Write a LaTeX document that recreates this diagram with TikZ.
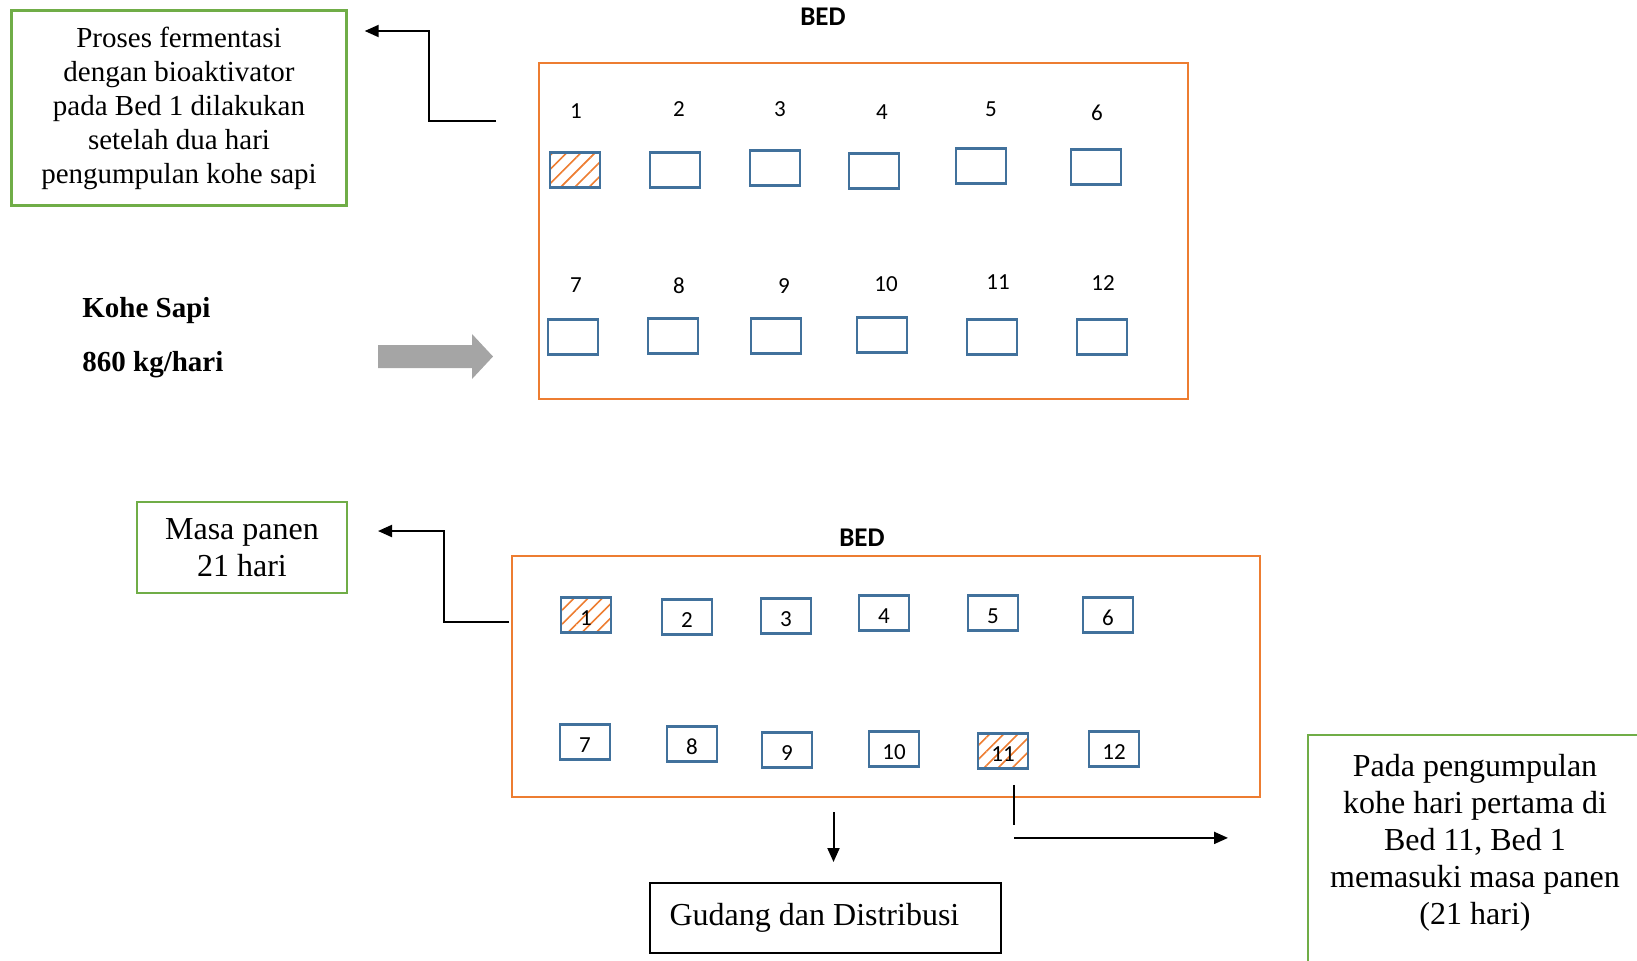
\documentclass[tikz,border=0pt]{standalone}
\usepackage{fontspec}
\setmainfont{Liberation Serif}
\newfontfamily\calibri{Carlito}
\usetikzlibrary{positioning,patterns.meta,arrows.meta}
\definecolor{bedorange}{HTML}{ED7D31}
\definecolor{cellblue}{HTML}{41719C}
\definecolor{notegreen}{HTML}{70AD47}
\definecolor{flowgray}{HTML}{A5A5A5}
\tikzset{cell/.style={draw=cellblue,line width=1.4pt,minimum width=25pt,minimum height=17.5pt,inner sep=0pt,text height=10.5pt,font=\calibri\fontsize{11.5}{13}\selectfont}}
\tikzset{hatched/.style={cell,pattern={Lines[angle=45,distance=5pt,line width=0.8pt]},pattern color=bedorange}}
\tikzset{cellnum/.style={inner sep=0pt,font=\calibri\fontsize{11.5}{13}\selectfont}}
\tikzset{bedframe/.style={draw=bedorange,line width=1.2pt,inner sep=0pt}}
\tikzset{bedtitle/.style={inner sep=0pt,font=\calibri\bfseries\fontsize{13.5}{16}\selectfont}}
\tikzset{note/.style={draw=notegreen,line width=1.2pt,align=center}}
\tikzset{flow/.style={draw,line width=1pt,-{Triangle[length=7pt,width=6pt]}}}

\begin{document}
\begin{tikzpicture}[x=0.5pt,y=-0.5pt]
    \useasboundingbox (0,0) rectangle (1637,960);
    \clip (0,0) rectangle (1637,960);
        % first bed
        \node[bedtitle] (toptitle) at (823,17) {BED};
        \node[bedframe,minimum width=324.5pt,minimum height=168pt] (bedtop) at (863.5,231) {};
        \node[cellnum] (n1) at (576,111) {1};
        \node[cellnum] (n2) at (679,109) {2};
        \node[cellnum] (n3) at (780,109) {3};
        \node[cellnum] (n4) at (882,112) {4};
        \node[cellnum] (n5) at (991,109) {5};
        \node[cellnum] (n6) at (1097,113) {6};
        \node[hatched] (t1) at (575,170) {};
        \node[cell] (t2) at (675,170) {};
        \node[cell] (t3) at (775,168) {};
        \node[cell] (t4) at (874,171) {};
        \node[cell] (t5) at (981,166) {};
        \node[cell] (t6) at (1096,167) {};
        \node[cellnum] (n7) at (576,285) {7};
        \node[cellnum] (n8) at (679,286) {8};
        \node[cellnum] (n9) at (784,286) {9};
        \node[cellnum] (n10) at (886,284) {10};
        \node[cellnum] (n11) at (998,282) {11};
        \node[cellnum] (n12) at (1103,283) {12};
        \node[cell] (t7) at (573,337) {};
        \node[cell] (t8) at (673,336) {};
        \node[cell] (t9) at (776,336) {};
        \node[cell] (t10) at (882,335) {};
        \node[cell] (t11) at (992,337) {};
        \node[cell] (t12) at (1102,337) {};
        \node[note,font=\fontsize{14.5}{17}\selectfont,minimum width=167.5pt,minimum height=97.5pt] (proses) at (179,108) {Proses fermentasi\\dengan bioaktivator\\pada Bed 1 dilakukan\\setelah dua hari\\pengumpulan kohe sapi};
        \coordinate (topfrom) at (496,121);
        \coordinate (topbend) at (429,31);
            \path[flow] (topfrom) -| (topbend) -- ([xshift=8.5pt]proses.east |- topbend);
        \node[anchor=west,inner sep=0pt,font=\bfseries\fontsize{14.5}{17}\selectfont] (kohe) at (82,311) {Kohe Sapi};
        \node[anchor=west,inner sep=0pt,font=\bfseries\fontsize{14.5}{17}\selectfont] (kohekg) at (82,365) {860 kg/hari};
        \fill[flowgray] (378,345) -- (472,345) -- (472,334) -- (493,356.5) -- (472,379) -- (472,368) -- (378,368) -- cycle;
        % second bed
        \node[bedtitle] (lowtitle) at (862,538) {BED};
        \node[bedframe,minimum width=374pt,minimum height=120.5pt] (bedlow) at (886,676.5) {};
        \node[hatched] (b1) at (586,615) {1};
        \node[cell] (b2) at (687,617) {2};
        \node[cell] (b3) at (786,616) {3};
        \node[cell] (b4) at (884,613) {4};
        \node[cell] (b5) at (993,613) {5};
        \node[cell] (b6) at (1108,615) {6};
        \node[cell] (b7) at (585,742) {7};
        \node[cell] (b8) at (692,744) {8};
        \node[cell] (b9) at (787,750) {9};
        \node[cell] (b10) at (894,749) {10};
        \node[hatched] (b11) at (1003,751) {11};
        \node[cell] (b12) at (1114,749) {12};
        \node[note,font=\fontsize{16}{18.5}\selectfont,minimum width=104.8pt,minimum height=45.3pt] (masa) at (242,547.5) {Masa panen\\21 hari};
        \coordinate (lowfrom) at (509,622);
        \coordinate (lowbend) at (444,531);
            \path[flow] (lowfrom) -| (lowbend) -- ([xshift=15pt]masa.east |- lowbend);
        \node[draw,line width=1pt,minimum width=175.5pt,minimum height=35pt,font=\fontsize{16}{18.5}\selectfont] (gudang) at (825.5,918) {Gudang dan Distribusi\rule{11pt}{0pt}};
            \path[flow,shorten <=7pt,shorten >=10pt] ([xshift=4pt]gudang.north |- bedlow.south) -- ([xshift=4pt]gudang.north);
        \node[anchor=north,inner sep=0pt,align=center,font=\fontsize{16}{18.5}\selectfont] (panen) at (1475,754) {Pada pengumpulan\\kohe hari pertama di\\Bed 11, Bed 1\\memasuki masa panen\\(21 hari)};
        \draw[draw=notegreen,line width=1.2pt] (1308,735) rectangle (1660,1000);
        \draw[line width=0.6pt] ([xshift=5.5pt,yshift=-7.5pt]b11.south) -- ++(0,40);
            \path[flow] ([xshift=5.5pt,yshift=-34pt]b11.south) -- ++(214,0);
\end{tikzpicture}
\end{document}
